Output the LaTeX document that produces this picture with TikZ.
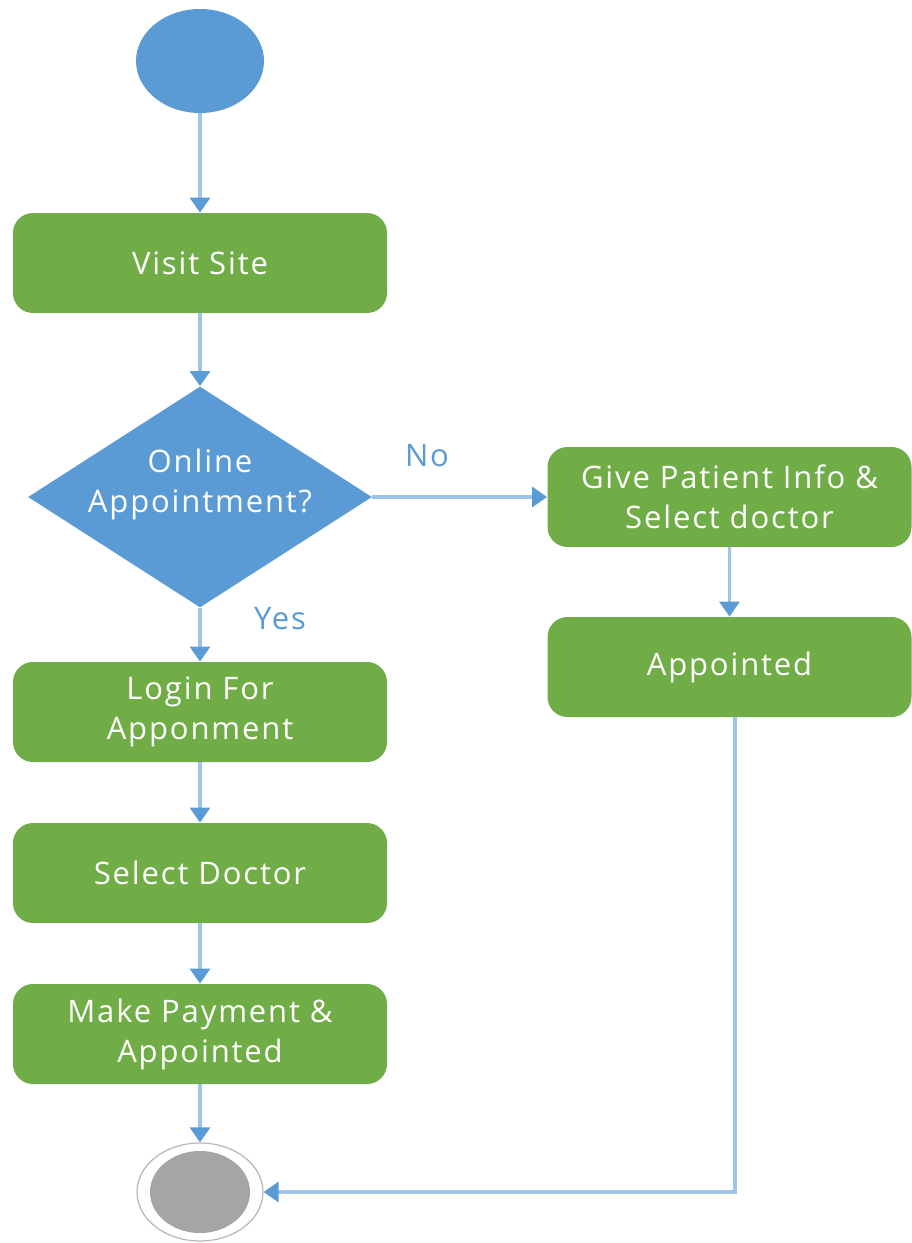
\documentclass[tikz,border=0pt]{standalone}
\usepackage{fontspec}
\setmainfont{Open Sans}[LetterSpace=6]
\usetikzlibrary{shapes.geometric,arrows.meta}
\definecolor{actgreen}{HTML}{70AD47}
\definecolor{decblue}{HTML}{5B9BD5}
\definecolor{linkblue}{HTML}{9DC3E6}
\definecolor{endgrey}{HTML}{A5A5A5}
\begin{document}
\begin{tikzpicture}[x=0.5pt,y=-0.5pt,
    act_node/.style={rectangle,rounded corners=10pt,fill=actgreen,text=white,minimum width=187pt,minimum height=50pt,align=center,font=\fontsize{15.5}{20}\selectfont},
    side_node/.style={act_node,minimum width=182pt},
    dec_node/.style={diamond,fill=decblue,minimum width=172pt,minimum height=110.5pt,inner sep=0pt},
    dec_text/.style={text=white,align=center,font=\fontsize{15.5}{20}\selectfont},
    flow_line/.style={draw=linkblue,line width=1.6pt,-{Triangle[width=10pt,length=7.5pt,color=decblue]}},
    lbl/.style={text=decblue,font=\fontsize{15.5}{20}\selectfont}]
    \useasboundingbox (0,0) rectangle (911,1243);
    \node[ellipse,fill=decblue,minimum width=64pt,minimum height=52pt] (start) at (200,61) {};
    \node[act_node] (visit) at (200,263) {Visit Site};
    \node[dec_node] (online) at (200,497) {};
    \node[dec_text] (onlinetxt) at (200,484) {Online\\Appointment?};
    \node[act_node] (login) at (200,712) {Login For\\Apponment};
    \node[act_node] (seldoc) at (200,873) {Select Doctor};
    \node[act_node] (pay) at (200,1034) {Make Payment \&\\Appointed};
    \node[side_node] (info) at (729.5,497) {Give Patient Info \&\\Select doctor};
    \node[side_node] (appt) at (729.5,667) {Appointed};
    \node[ellipse,draw=endgrey!80,line width=0.6pt,fill=white,minimum width=63pt,minimum height=49pt] (stop) at (200,1192) {};
    \node[ellipse,fill=endgrey,minimum width=50pt,minimum height=41pt] (stopin) at (200,1192) {};
    \draw[flow_line] (start) -- (visit);
    \draw[flow_line] (visit) -- (online);
    \draw[flow_line] (online) -- (login);
    \draw[flow_line] (login) -- (seldoc);
    \draw[flow_line] (seldoc) -- (pay);
    \draw[flow_line] (pay) -- (stop);
    \draw[flow_line] (online) -- (info);
    \draw[flow_line] (info) -- (appt);
    \draw[flow_line] (appt.south -| 735,0) |- (stop);
    \node[lbl] (no) at (427,456) {No};
    \node[lbl] (yes) at (280,619) {Yes};
\end{tikzpicture}
\end{document}
